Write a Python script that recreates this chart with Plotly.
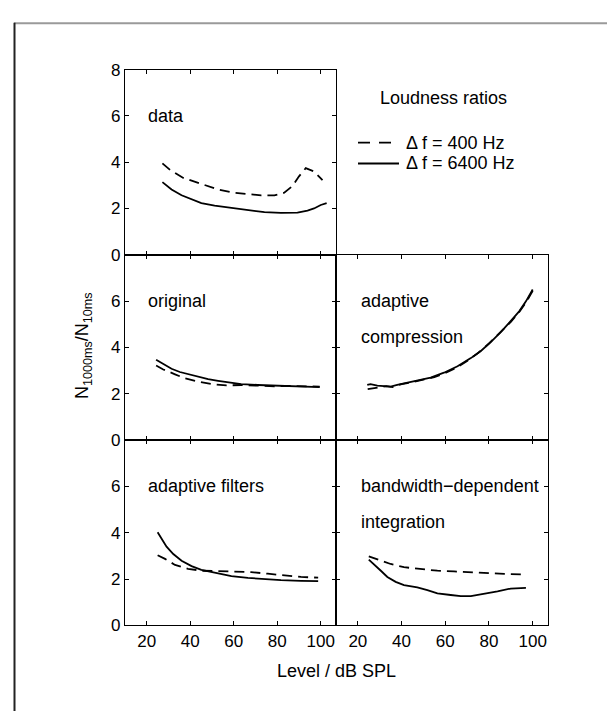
import plotly.graph_objects as go

# ---------------- data ----------------
data_400_x = [27.2, 30.7, 36.8, 39.8, 46.7, 52.8, 60.4, 66.5, 72.6, 78.7, 83.2, 87.0, 90.0, 93.1, 96.9, 100.8]
data_400_y = [3.95, 3.67, 3.32, 3.22, 3.00, 2.82, 2.68, 2.61, 2.57, 2.57, 2.68, 2.97, 3.39, 3.74, 3.60, 3.22]
data_6400_x = [27.2, 31.4, 36.0, 40.6, 45.1, 51.2, 58.9, 66.5, 74.1, 81.7, 89.3, 93.9, 96.9, 100.0, 102.7]
data_6400_y = [3.14, 2.82, 2.57, 2.40, 2.23, 2.12, 2.02, 1.91, 1.84, 1.81, 1.82, 1.91, 2.00, 2.15, 2.23]

orig_400_x = [24.3, 27.6, 33.0, 37.5, 43.6, 49.7, 56.6, 63.4, 71.0, 78.7, 86.3, 93.9, 99.5]
orig_400_y = [3.22, 3.05, 2.84, 2.67, 2.53, 2.42, 2.36, 2.38, 2.35, 2.32, 2.34, 2.34, 2.31]
orig_6400_x = [24.3, 26.1, 28.4, 31.4, 35.2, 39.0, 43.6, 48.2, 52.8, 57.3, 63.4, 71.0, 78.7, 86.3, 93.9, 99.5]
orig_6400_y = [3.47, 3.37, 3.23, 3.08, 2.94, 2.84, 2.73, 2.63, 2.56, 2.49, 2.42, 2.38, 2.35, 2.34, 2.32, 2.29]

comp_400_x = [24.5, 27.5, 30.0, 33.0, 36.0, 40.0, 45.0, 50.0, 55.0, 60.0, 65.0, 70.0, 75.0, 80.0, 85.0, 90.0, 94.0, 97.0, 100.0]
comp_400_y = [2.20, 2.24, 2.30, 2.33, 2.29, 2.42, 2.50, 2.60, 2.72, 2.90, 3.12, 3.42, 3.76, 4.17, 4.62, 5.10, 5.55, 5.95, 6.45]
comp_6400_x = [24.3, 25.8, 28.9, 32.0, 35.0, 38.0, 41.1, 47.2, 53.3, 59.4, 65.6, 71.7, 76.3, 80.9, 85.4, 90.0, 93.9, 96.9, 100.0]
comp_6400_y = [2.38, 2.42, 2.35, 2.34, 2.31, 2.38, 2.45, 2.56, 2.70, 2.91, 3.19, 3.54, 3.85, 4.24, 4.66, 5.15, 5.57, 5.99, 6.50]

filt_400_x = [25.0, 28.4, 33.0, 39.0, 45.1, 52.8, 60.4, 68.0, 75.6, 83.2, 90.9, 98.8]
filt_400_y = [3.03, 2.87, 2.61, 2.44, 2.36, 2.34, 2.33, 2.30, 2.23, 2.16, 2.09, 2.06]
filt_6400_x = [25.0, 26.9, 29.1, 32.2, 36.0, 40.6, 45.1, 51.2, 58.9, 66.5, 74.1, 81.7, 90.9, 98.8]
filt_6400_y = [4.02, 3.71, 3.40, 3.08, 2.79, 2.56, 2.40, 2.28, 2.13, 2.05, 1.99, 1.95, 1.92, 1.91]

bw_400_x = [25.0, 28.9, 35.0, 41.1, 48.7, 56.4, 64.0, 71.7, 79.3, 87.0, 96.9]
bw_400_y = [2.98, 2.85, 2.65, 2.51, 2.42, 2.36, 2.33, 2.29, 2.25, 2.22, 2.20]
bw_6400_x = [25.0, 27.3, 30.4, 33.5, 37.3, 41.1, 47.2, 51.8, 56.4, 62.5, 67.1, 71.7, 77.8, 83.9, 90.0, 96.9]
bw_6400_y = [2.84, 2.65, 2.37, 2.09, 1.88, 1.74, 1.64, 1.52, 1.38, 1.31, 1.26, 1.26, 1.35, 1.47, 1.59, 1.62]

x_ticks = [20, 40, 60, 80, 100]
y_ticks_top = [0, 2, 4, 6, 8]
y_ticks_low = [0, 2, 4, 6]

panel_labels = {
    "data": ["data"],
    "original": ["original"],
    "comp": ["adaptive", "compression"],
    "filt": ["adaptive filters"],
    "bw": ["bandwidth\u2212dependent", "integration"],
}
legend_title = "Loudness ratios"
legend_names = ["\u0394 f = 400 Hz", "\u0394 f = 6400 Hz"]

# ---------------- layout geometry ----------------
W, H = 615, 713
XB = [117, 328, 540]
YB = [54, 244.3, 434.7, 625]
FONT = "Liberation Sans, Arial, sans-serif"


def px(x):
    return x / W


def py(y):
    return 1 - y / H


fig = go.Figure()

panels = [
    ("data", 0, 0, data_400_x, data_400_y, data_6400_x, data_6400_y),
    ("original", 1, 0, orig_400_x, orig_400_y, orig_6400_x, orig_6400_y),
    ("comp", 1, 1, comp_400_x, comp_400_y, comp_6400_x, comp_6400_y),
    ("filt", 2, 0, filt_400_x, filt_400_y, filt_6400_x, filt_6400_y),
    ("bw", 2, 1, bw_400_x, bw_400_y, bw_6400_x, bw_6400_y),
]

annotations = []
for i, (key, r, c, x4, y4, x64, y64) in enumerate(panels):
    n = "" if i == 0 else str(i + 1)
    xa, ya = "x" + n, "y" + n
    fig.add_trace(go.Scatter(x=x4, y=y4, mode="lines", xaxis=xa, yaxis=ya,
                             line=dict(color="black", width=1.8, dash="10px,6px"),
                             showlegend=False, hoverinfo="skip"))
    fig.add_trace(go.Scatter(x=x64, y=y64, mode="lines", xaxis=xa, yaxis=ya,
                             line=dict(color="black", width=1.8),
                             showlegend=False, hoverinfo="skip"))
    common = dict(showline=True, linecolor="black", linewidth=1.1, mirror="ticks",
                  ticks="inside", ticklen=4, tickwidth=1, tickcolor="black",
                  showgrid=False, zeroline=False, fixedrange=True,
                  tickfont=dict(family=FONT, size=17, color="black"))
    fig.layout["xaxis" + n] = dict(
        common, domain=[px(XB[c]), px(XB[c + 1])], range=[10, 107],
        anchor=ya, tickvals=x_ticks, showticklabels=(r == 2))
    fig.layout["yaxis" + n] = dict(
        common, domain=[py(YB[r + 1]), py(YB[r])], range=[0, 8],
        anchor=xa, tickvals=(y_ticks_top if r == 0 else y_ticks_low),
        showticklabels=(c == 0))
    for k, t in enumerate(panel_labels[key]):
        annotations.append(dict(
            text=t, xref=xa, yref=ya, x=(19.5 if c == 0 else 20.3), y=6 - 1.55 * k,
            xanchor="left", yanchor="middle", showarrow=False,
            font=dict(family=FONT, size=18, color="black")))

# axis titles
annotations.append(dict(text="Level / dB SPL", xref="paper", yref="paper",
                        x=px(328), y=py(672), xanchor="center", yanchor="middle",
                        showarrow=False, font=dict(family=FONT, size=18, color="black")))
annotations.append(dict(text="N<sub>1000ms</sub>/N<sub>10ms</sub>", xref="paper", yref="paper",
                        x=px(76), y=py(338), xanchor="center", yanchor="middle", textangle=-90,
                        showarrow=False, font=dict(family=FONT, size=18, color="black")))

# legend block (top-right)
annotations.append(dict(text=legend_title, xref="paper", yref="paper",
                        x=px(435), y=py(83), xanchor="center", yanchor="middle",
                        showarrow=False, font=dict(family=FONT, size=18, color="black")))
LEG_Y = [129, 150.5]
for k, name in enumerate(legend_names):
    annotations.append(dict(text=name, xref="paper", yref="paper",
                            x=px(396), y=py(LEG_Y[k]), xanchor="left", yanchor="middle",
                            showarrow=False, font=dict(family=FONT, size=18, color="black")))

shapes = [
    dict(type="line", xref="paper", yref="paper", x0=px(350), x1=px(383), y0=py(LEG_Y[0]), y1=py(LEG_Y[0]),
         line=dict(color="black", width=1.8, dash="12px,9px")),
    dict(type="line", xref="paper", yref="paper", x0=px(350), x1=px(391), y0=py(LEG_Y[1]), y1=py(LEG_Y[1]),
         line=dict(color="black", width=1.8)),
    # outer frame (top + left edges)
    dict(type="line", xref="paper", yref="paper", x0=px(6), x1=1, y0=py(6.5), y1=py(6.5),
         line=dict(color="#9a9a9a", width=2)),
    dict(type="line", xref="paper", yref="paper", x0=px(6.5), x1=px(6.5), y0=py(6), y1=0,
         line=dict(color="#222222", width=2)),
]

fig.update_layout(width=W, height=H, margin=dict(l=0, r=0, t=0, b=0),
                  paper_bgcolor="white", plot_bgcolor="white",
                  annotations=annotations, shapes=shapes, showlegend=False)

fig.write_html("out.html")
